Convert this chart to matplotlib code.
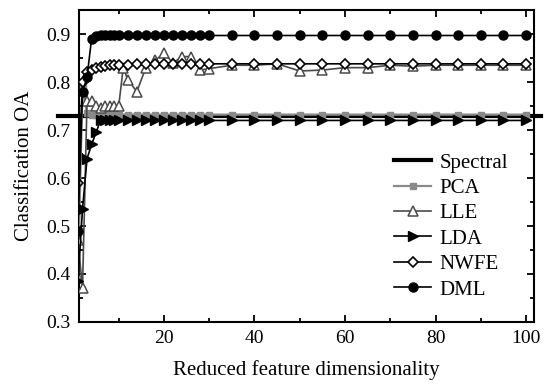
import matplotlib.pyplot as plt
from matplotlib.ticker import MultipleLocator

plt.rcParams['font.family'] = ['Liberation Serif', 'DejaVu Serif']

# Reduced feature dimensionality (shared sampling)
dims = [1, 2, 3, 4, 5, 6, 7, 8, 9, 10, 12, 14, 16, 18, 20, 22, 24, 26, 28, 30,
        35, 40, 45, 50, 55, 60, 65, 70, 75, 80, 85, 90, 95, 100]
# LLE has one extra point at 11
dims_lle = [1, 2, 3, 4, 5, 6, 7, 8, 9, 10, 11, 12, 14, 16, 18, 20, 22, 24, 26, 28, 30,
            35, 40, 45, 50, 55, 60, 65, 70, 75, 80, 85, 90, 95, 100]

spectral_oa = 0.730

pca_oa = [0.39, 0.79, 0.735, 0.732, 0.732, 0.732, 0.732, 0.732, 0.732, 0.732,
          0.732, 0.732, 0.732, 0.732, 0.732, 0.732, 0.732, 0.732, 0.732, 0.732,
          0.732, 0.732, 0.732, 0.732, 0.732, 0.732, 0.732, 0.732, 0.732, 0.732,
          0.732, 0.732, 0.732, 0.732]

lle_oa = [0.47, 0.37, 0.76, 0.76, 0.75, 0.745, 0.75, 0.75, 0.75, 0.75,
          0.83, 0.805, 0.78, 0.83, 0.845, 0.86, 0.84, 0.853, 0.853, 0.825, 0.828,
          0.835, 0.835, 0.838, 0.823, 0.825, 0.83, 0.83, 0.835, 0.833, 0.835,
          0.835, 0.835, 0.835, 0.835]

lda_oa = [0.385, 0.535, 0.64, 0.67, 0.695, 0.72, 0.72, 0.72, 0.72, 0.72,
          0.72, 0.72, 0.72, 0.72, 0.72, 0.72, 0.72, 0.72, 0.72, 0.72,
          0.72, 0.72, 0.72, 0.72, 0.72, 0.72, 0.72, 0.72, 0.72, 0.72,
          0.72, 0.72, 0.72, 0.72]

nwfe_oa = [0.59, 0.80, 0.82, 0.825, 0.83, 0.832, 0.834, 0.835, 0.835, 0.836,
           0.836, 0.837, 0.837, 0.837, 0.838, 0.838, 0.838, 0.838, 0.838, 0.838,
           0.838, 0.838, 0.838, 0.838, 0.838, 0.838, 0.838, 0.838, 0.838, 0.838,
           0.838, 0.838, 0.838, 0.838]

dml_oa = [0.49, 0.78, 0.81, 0.89, 0.895, 0.897, 0.897, 0.897, 0.897, 0.897,
          0.897, 0.897, 0.897, 0.897, 0.897, 0.897, 0.897, 0.897, 0.897, 0.897,
          0.897, 0.897, 0.897, 0.897, 0.897, 0.897, 0.897, 0.897, 0.897, 0.897,
          0.897, 0.897, 0.897, 0.897]

fig = plt.figure(figsize=(5.44, 3.87), dpi=100)
ax = fig.add_axes([0.145, 0.168, 0.837, 0.806])

# spectral baseline sticks out past both spines like in the original
ax.axhline(spectral_oa, xmin=-0.045, xmax=1.015, color='black', lw=3,
           clip_on=False, label='Spectral', zorder=2)
ax.plot(dims, pca_oa, color='#8a8a8a', lw=1.6, marker='s', ms=4.5,
        mfc='#8a8a8a', mec='#8a8a8a', label='PCA', zorder=3)
ax.plot(dims_lle, lle_oa, color='#4a4a4a', lw=1.2, marker='^', ms=7,
        mfc='white', mec='#4a4a4a', mew=1.1, label='LLE', zorder=3)
ax.plot(dims, lda_oa, color='black', lw=1.2, marker='>', ms=7,
        label='LDA', zorder=4)
ax.plot(dims, nwfe_oa, color='black', lw=1.2, marker='D', ms=5,
        mfc='white', mec='black', mew=1.2, label='NWFE', zorder=5)
ax.plot(dims, dml_oa, color='black', lw=1.2, marker='o', ms=6.5,
        label='DML', zorder=6)

ax.set_xlim(1.2, 101.8)
ax.set_ylim(0.3, 0.95)
ax.xaxis.set_major_locator(MultipleLocator(20))
ax.xaxis.set_minor_locator(MultipleLocator(10))
ax.yaxis.set_major_locator(MultipleLocator(0.1))
ax.yaxis.set_minor_locator(MultipleLocator(0.05))
ax.tick_params(which='both', direction='in', top=True, right=True, width=1.3)
ax.tick_params(which='major', length=5, labelsize=14, pad=6)
ax.tick_params(which='minor', length=3)
for s in ax.spines.values():
    s.set_linewidth(1.5)

ax.set_xlabel('Reduced feature dimensionality', fontsize=15, labelpad=9)
ax.set_ylabel('Classification OA', fontsize=15, labelpad=9)

ax.legend(loc='lower right', bbox_to_anchor=(0.975, 0.025), frameon=False,
          fontsize=15, handlelength=1.8, handletextpad=0.4, labelspacing=0.28,
          borderpad=0.2)

fig.savefig('out.png', dpi=100)
